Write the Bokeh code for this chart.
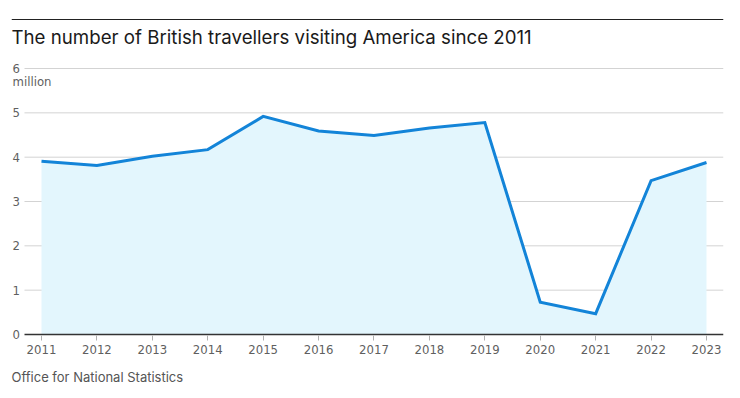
from bokeh.plotting import figure
from bokeh.models import Range1d, Span, Title, FixedTicker, ColumnDataSource
from bokeh.core.properties import value
from bokeh.embed import file_html
from bokeh.resources import INLINE

years = [2011, 2012, 2013, 2014, 2015, 2016, 2017, 2018, 2019, 2020, 2021, 2022, 2023]
visitors = [3.91, 3.81, 4.02, 4.17, 4.92, 4.59, 4.49, 4.66, 4.78, 0.73, 0.47, 3.47, 3.88]
y_ticks = [0, 1, 2, 3, 4, 5, 6]
y_unit = "million"
title_text = "The number of British travellers visiting America since 2011"
source_text = "Office for National Statistics"

W, H = 730, 398
px_per_year = 55.42
px_per_unit = 44.33
zero_px = 334
frame_left, frame_right, frame_top, frame_bottom = 11, 723, 17, 340

x_start = years[0] - (41 - frame_left) / px_per_year
x_end = years[-1] + (frame_right - 706) / px_per_year
y_start = -(frame_bottom - zero_px) / px_per_unit
y_end = (zero_px - frame_top) / px_per_unit
grid_x0 = years[0] - 17 / px_per_year

COND = "Liberation Sans Narrow, DejaVu Sans Condensed, Roboto, sans-serif"

p = figure(width=W, height=H, output_backend="svg", toolbar_location=None,
           x_range=Range1d(x_start, x_end), y_range=Range1d(y_start, y_end),
           min_border_left=frame_left, min_border_right=W - frame_right,
           min_border_top=frame_top, min_border_bottom=H - frame_bottom)
p.outline_line_color = None
p.xgrid.visible = False
p.ygrid.visible = False
p.yaxis.visible = False
p.background_fill_color = "white"
p.border_fill_color = "white"

# top rule
rule_y = (zero_px - 19) / px_per_unit
p.add_layout(Span(location=rule_y, dimension="width", line_color="#222222", line_width=1.2))

# title
p.text(x=[x_start], y=[rule_y], text=[title_text], text_font=value("Inter"),
       text_font_size="18.7px", text_color="#1a1a1a", text_baseline="middle",
       text_align="left", y_offset=18)

# gridlines
grid_vals = [v for v in y_ticks if v > 0]
p.segment(x0=[grid_x0] * len(grid_vals), x1=[x_end] * len(grid_vals),
          y0=grid_vals, y1=grid_vals, line_color="#d3d3d3", line_width=1)

# y labels
p.text(x=[x_start] * len(y_ticks), y=y_ticks, text=[str(v) for v in y_ticks],
       text_font=value(COND), text_font_size="13px", text_color="#5f5f5f",
       text_baseline="middle", text_align="left", x_offset=1)
p.text(x=[x_start], y=[y_ticks[-1]], text=[y_unit], text_font=value(COND),
       text_font_size="13px", text_color="#5f5f5f", text_baseline="middle",
       text_align="left", y_offset=13, x_offset=1)

# area + line
src = ColumnDataSource(dict(x=years, y=visitors, z=[0] * len(years)))
p.varea(x="x", y1="z", y2="y", source=src, fill_color="#e3f6fd")
p.line(x="x", y="y", source=src, line_color="#1384d8", line_width=3, line_join="miter")

# zero line
p.segment(x0=[grid_x0], x1=[x_end], y0=[0], y1=[0], line_color="#333333", line_width=1.5)

# x axis
ax = p.xaxis[0]
ax.ticker = FixedTicker(ticks=years)
ax.axis_line_color = None
ax.major_tick_line_color = "#b0b0b0"
ax.major_tick_out = 0
ax.major_tick_in = 5
ax.minor_tick_line_color = None
ax.major_label_text_font = COND
ax.major_label_text_font_size = "13px"
ax.major_label_text_color = "#5f5f5f"
ax.major_label_standoff = 4

p.add_layout(Title(text=source_text, align="left", text_font="Inter",
                   text_font_size="13px", text_color="#555555",
                   text_font_style="normal", standoff=20), "below")

open("out.html", "w").write(file_html(p, INLINE))
